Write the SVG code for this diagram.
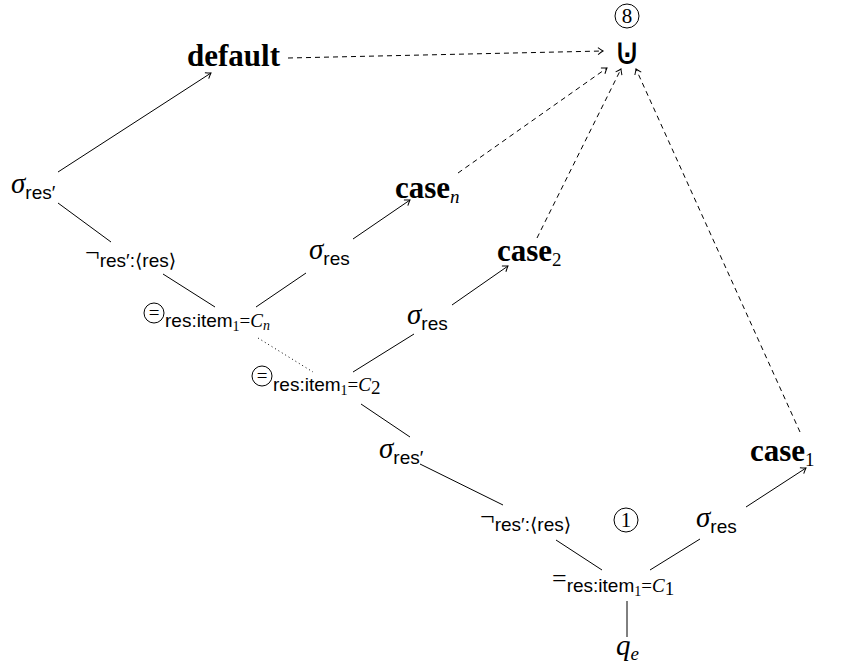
<svg xmlns="http://www.w3.org/2000/svg" width="856" height="666" viewBox="0 0 856 666">
<style>
.m{font-family:"Liberation Serif",serif;font-style:italic;font-size:29px}
.u{font-family:"Liberation Serif",serif;font-style:normal;font-size:26px}
.s{font-family:"Liberation Sans","DejaVu Sans",sans-serif;font-style:normal;font-size:19px}
.ss{font-family:"Liberation Serif",serif;font-style:normal;font-size:14px}
.mi{font-family:"Liberation Serif",serif;font-style:italic;font-size:19px}
.mis{font-family:"Liberation Serif",serif;font-style:italic;font-size:14px}
.r{font-family:"Liberation Serif",serif;font-style:normal;font-size:19px}
.b{font-family:"Liberation Serif",serif;font-weight:bold;font-size:31px}
.dig{font-family:"Liberation Serif",serif;font-style:normal;font-size:21px}
.sym{font-family:"DejaVu Sans",sans-serif;font-style:normal;font-size:37px}
.e{fill:none;stroke:#000;stroke-width:1}
.d{stroke-dasharray:5 4}
.dot{stroke-dasharray:1 3}
.c{fill:none;stroke:#000;stroke-width:1}
</style>
<defs>
<marker id="a" markerUnits="userSpaceOnUse" markerWidth="12" markerHeight="12" refX="0" refY="0" viewBox="-6 -6 12 12" orient="auto">
<path d="M-5,-3.5 Q-1.5,-0.8 0,0 Q-1.5,0.8 -5,3.5" fill="none" stroke="#000" stroke-width="1"/>
</marker>
</defs>
<rect width="856" height="666" fill="#fff"/>
<g id="edges">
<line class="e" x1="58" y1="172" x2="211" y2="73" marker-end="url(#a)"/>
<line class="e" x1="58" y1="203" x2="111" y2="242"/>
<line class="e" x1="163" y1="274" x2="215" y2="307"/>
<line class="e" x1="256" y1="307" x2="306" y2="273"/>
<line class="e" x1="353" y1="239" x2="410" y2="200" marker-end="url(#a)"/>
<line class="e dot" x1="258" y1="338" x2="313" y2="372"/>
<line class="e" x1="353" y1="372" x2="414" y2="334"/>
<line class="e" x1="452" y1="305" x2="508" y2="266" marker-end="url(#a)"/>
<line class="e" x1="361" y1="404" x2="410" y2="437"/>
<line class="e" x1="420" y1="464" x2="503" y2="505"/>
<line class="e" x1="556" y1="540" x2="602" y2="570"/>
<line class="e" x1="650" y1="570" x2="700" y2="539"/>
<line class="e" x1="746" y1="507" x2="806" y2="468" marker-end="url(#a)"/>
<line class="e" x1="627" y1="601" x2="627" y2="637"/>
<line class="e d" x1="288" y1="58" x2="603" y2="51" marker-end="url(#a)"/>
<line class="e d" x1="458" y1="173" x2="607" y2="68" marker-end="url(#a)"/>
<line class="e d" x1="537" y1="238" x2="621" y2="69" marker-end="url(#a)"/>
<line class="e d" x1="800" y1="432" x2="636" y2="69" marker-end="url(#a)"/>
</g>
<g id="n8"><circle class="c" cx="627" cy="16" r="12"/><text class="dig" x="627" y="23" text-anchor="middle">8</text></g>
<g id="union"><text class="sym" x="627" y="64" text-anchor="middle">⊍</text></g>
<g id="default"><text class="b" x="187" y="66">default</text></g>
<g id="sigma1"><text x="11" y="193"><tspan class="m">σ</tspan><tspan class="s" dy="6">res′</tspan></text></g>
<g id="neg1"><text x="85" y="261"><tspan class="u">¬</tspan><tspan class="s" dy="6">res′:⟨res⟩</tspan></text></g>
<g id="eqn"><circle class="c" cx="154" cy="313" r="10"/><text class="r" x="154" y="319" text-anchor="middle">=</text><text x="165" y="327"><tspan class="s">res:item</tspan><tspan class="ss" dy="4">1</tspan><tspan class="r" dy="-4">=</tspan><tspan class="mi">C</tspan><tspan class="mis" dy="3">n</tspan></text></g>
<g id="sigma2"><text x="309" y="259"><tspan class="m">σ</tspan><tspan class="s" dy="6">res</tspan></text></g>
<g id="casen"><text x="395" y="198"><tspan class="b">case</tspan><tspan class="mi" dy="5">n</tspan></text></g>
<g id="case2"><text x="497" y="261"><tspan class="b">case</tspan><tspan class="r" dy="5">2</tspan></text></g>
<g id="sigma3"><text x="407" y="324"><tspan class="m">σ</tspan><tspan class="s" dy="6">res</tspan></text></g>
<g id="eq2"><circle class="c" cx="262" cy="376" r="10"/><text class="r" x="262" y="382" text-anchor="middle">=</text><text x="273" y="391"><tspan class="s">res:item</tspan><tspan class="ss" dy="4">1</tspan><tspan class="r" dy="-4">=</tspan><tspan class="mi">C</tspan><tspan class="r" dy="3">2</tspan></text></g>
<g id="sigma4"><text x="379" y="458"><tspan class="m">σ</tspan><tspan class="s" dy="6">res′</tspan></text></g>
<g id="neg2"><text x="480" y="525"><tspan class="u">¬</tspan><tspan class="s" dy="6">res′:⟨res⟩</tspan></text></g>
<g id="n1"><circle class="c" cx="626" cy="520" r="12"/><text class="dig" x="626" y="527" text-anchor="middle">1</text></g>
<g id="sigma5"><text x="696" y="527"><tspan class="m">σ</tspan><tspan class="s" dy="6">res</tspan></text></g>
<g id="case1"><text x="750" y="461"><tspan class="b">case</tspan><tspan class="r" dy="5">1</tspan></text></g>
<g id="eq1"><text x="552" y="587"><tspan class="u">=</tspan><tspan class="s" dy="5">res:item</tspan><tspan class="ss" dy="4">1</tspan><tspan class="r" dy="-4">=</tspan><tspan class="mi">C</tspan><tspan class="r" dy="3">1</tspan></text></g>
<g id="qe"><text x="616" y="655"><tspan class="m">q</tspan><tspan class="mi" dy="5">e</tspan></text></g>
</svg>
